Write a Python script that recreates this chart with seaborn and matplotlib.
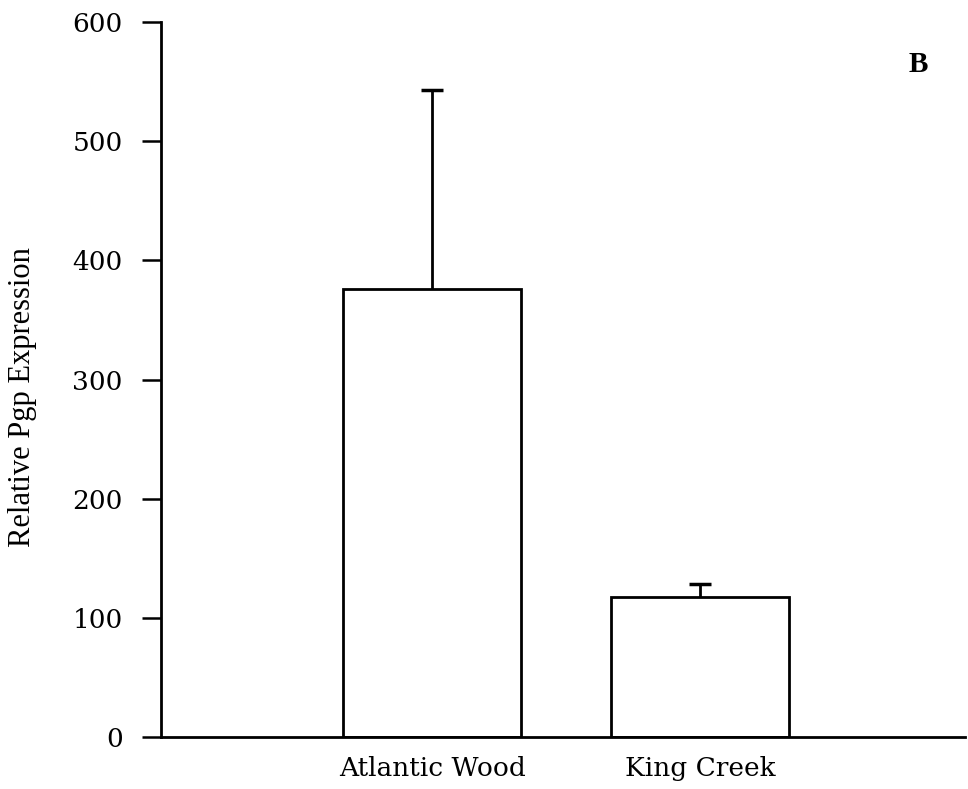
import matplotlib
matplotlib.use("Agg")
import matplotlib.pyplot as plt
import seaborn as sns
import pandas as pd
import numpy as np

sites = ["Atlantic Wood", "King Creek"]
means = [376, 117.5]
errs = [167, 11]
yticks = [0, 100, 200, 300, 400, 500, 600]

sns.set_style("ticks")
plt.rcParams['font.family'] = ['DejaVu Serif']

df = pd.DataFrame({"site": sites, "value": means})

fig = plt.figure(figsize=(9.68, 7.89), dpi=100)
ax = fig.add_axes([0.1663, 0.066, 0.8307, 0.906])
sns.barplot(data=df, x="site", y="value", ax=ax, color="white",
            edgecolor="black", linewidth=2, width=0.665, errorbar=None)
cont = ax.errorbar(range(len(sites)), means, yerr=[[0] * len(errs), errs], fmt="none",
                   ecolor="black", elinewidth=2, capsize=8, capthick=2.5)
caps = cont[1]
if len(caps) == 2:
    lower = min(caps, key=lambda c: np.mean(c.get_ydata()))
    lower.set_visible(False)

ax.set_ylim(0, 600)
ax.set_xlim(-1.013, 1.99)
ax.set_yticks(yticks)
ax.set_yticklabels([str(t) for t in yticks], fontsize=19)
ax.tick_params(axis="y", length=13.5, width=1.8, pad=14, colors="black")
ax.tick_params(axis="x", length=0, pad=14, colors="black")
for lab in ax.get_xticklabels():
    lab.set_fontsize(19)
ax.set_xlabel("")
ax.set_ylabel("Relative Pgp Expression", fontsize=22, family="Liberation Serif",
              color="black")
ax.yaxis.set_label_coords(-0.1716, 0.4755)
ax.yaxis.label.set_verticalalignment("center")
sns.despine(ax=ax)
for s in ["left", "bottom"]:
    ax.spines[s].set_linewidth(2)
    ax.spines[s].set_color("black")
ax.text(0.9415, 0.94, "B", transform=ax.transAxes, fontsize=21, fontweight="bold",
        family="Liberation Serif", ha="center", va="center", color="black")

fig.savefig("out.png", dpi=100)
